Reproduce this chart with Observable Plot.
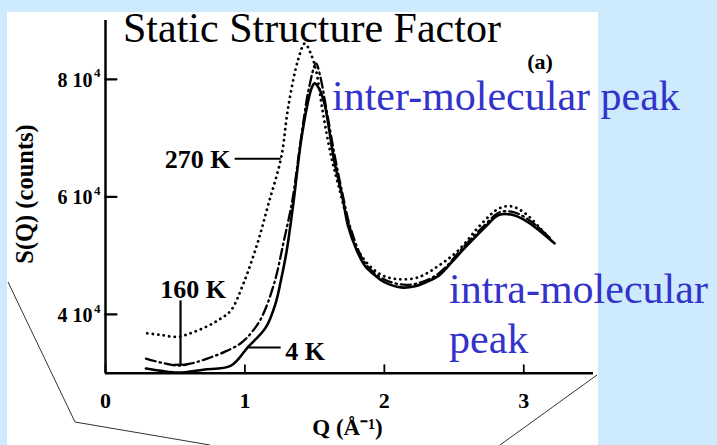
<!DOCTYPE html>
<html><head><meta charset="utf-8">
<script src="https://cdn.jsdelivr.net/npm/d3@7"></script>
<script src="https://cdn.jsdelivr.net/npm/@observablehq/plot@0.6"></script>
<style>
html,body{margin:0;padding:0;}
body{width:717px;height:445px;background:#cdebfc;position:relative;overflow:hidden;font-family:"Liberation Serif","Times New Roman",serif;}
#paper{position:absolute;left:7px;top:12px;width:591px;height:433px;background:#fff;}
#chart{position:absolute;left:0;top:0;}
#overlay{position:absolute;left:0;top:0;pointer-events:none;}
</style></head><body>
<div id="paper"></div>
<div id="chart"></div>
<svg id="overlay" width="717" height="445" font-family="'Liberation Serif','Times New Roman',serif">
  <polyline points="8,282 75,422 210,445" fill="none" stroke="#333" stroke-width="1"/>
  <line x1="597" y1="375" x2="500" y2="445" stroke="#333" stroke-width="1"/>
  <text x="123" y="42" font-size="42" fill="#000">Static Structure Factor</text>
  <text x="332" y="110" font-size="42" fill="#3333cc">inter-molecular peak</text>
  <text x="449" y="303" font-size="42" fill="#3333cc">intra-molecular</text>
  <text x="449" y="353" font-size="42" fill="#3333cc">peak</text>
  <text id="ytitle" transform="translate(33,194) rotate(-90)" text-anchor="middle" font-size="24.5" font-weight="bold" fill="#000"></text>
</svg>
<script>
// ---- data ----
const q4K   = [0.29,0.40,0.52,0.70,0.90,1.02,1.15,1.22,1.26,1.30,1.35,1.40,1.45,1.48,1.50,1.53,1.57,1.60,1.64,1.70,1.74,1.80,1.86,1.93,2.00,2.12,2.22,2.30,2.39,2.48,2.58,2.72,2.82,2.91,3.01,3.11,3.22];
const s4K   = [30800,30400,30100,30600,31300,34400,37800,41900,46000,50900,59400,69100,75900,78600,79300,78500,75900,72000,66200,59900,55000,51000,48300,46700,45500,44600,44800,45500,46600,48800,51400,54800,56900,57000,56000,54300,52100];
const q160K = [0.29,0.40,0.52,0.62,0.73,0.85,0.97,1.05,1.12,1.21,1.28,1.34,1.40,1.46,1.51,1.54,1.58,1.64,1.70,1.76,1.86,1.98,2.12,2.24,2.39,2.58,2.72,2.82,2.91,3.01,3.11,3.20];
const s160K = [32500,31800,31300,31700,32500,33600,35100,37000,39500,45300,52600,59400,69600,78600,82700,80500,75500,67500,60500,54500,48800,46200,45100,45300,47000,51800,55200,57300,57500,56500,54700,52700];
const q270K = [0.30,0.40,0.52,0.62,0.73,0.82,0.90,0.99,1.09,1.17,1.26,1.31,1.38,1.43,1.47,1.51,1.56,1.62,1.68,1.73,1.80,1.86,1.93,2.00,2.10,2.24,2.39,2.53,2.70,2.82,2.91,3.01,3.12,3.18];
const s270K = [36800,36500,36200,36900,38000,39200,40700,45300,52100,58900,66700,75200,83200,86100,84500,81500,74200,66700,61100,56500,51500,49200,47500,46500,46000,46300,48300,50900,55500,58000,58400,57200,54600,53100];
const xTicks = [0,1,2,3];
const xTickLabels = ["0","1","2","3"];
const yTicks = [40000,60000,80000];
const yTickMantissa = ["4 10","6 10","8 10"];
const yTickExponent = ["4","4","4"];
const yTitle = "S(Q) (counts)";
const xTitle = "Q (\u00C5\u207B\u00B9)";

document.getElementById("ytitle").textContent = yTitle;

const rows = (q, s) => q.map((d, i) => ({q: d, s: s[i]}));
const d4 = rows(q4K, s4K), d160 = rows(q160K, s160K), d270 = rows(q270K, s270K);
const xt = xTicks.map((d, i) => ({v: d, t: xTickLabels[i]}));
const yt = yTicks.map((d, i) => ({v: d, m: yTickMantissa[i], e: yTickExponent[i]}));
const tickShape = {draw(ctx, l) { ctx.moveTo(0, 0); ctx.lineTo(0, -l); }};
const F = "'Liberation Serif','Times New Roman',serif";

const chart = Plot.plot({
  width: 717, height: 445,
  marginTop: 20, marginBottom: 72.25, marginLeft: 105, marginRight: 124,
  x: {domain: [0, 3.5]}, y: {domain: [30000, 90000]},
  axis: null,
  style: {background: "transparent", fontFamily: F, overflow: "visible"},
  marks: [
    Plot.line(d270, {x: "q", y: "s", stroke: "#000", strokeWidth: 2.8, strokeDasharray: "0.1,5.4", strokeLinecap: "round", curve: "catmull-rom"}),
    Plot.line(d160, {x: "q", y: "s", stroke: "#000", strokeWidth: 2.3, strokeDasharray: "10,4,1.5,4", curve: "catmull-rom"}),
    Plot.line(d4, {x: "q", y: "s", stroke: "#000", strokeWidth: 2.6, curve: "catmull-rom"}),
    Plot.ruleX([0], {y1: 30000, y2: 90000, stroke: "#000", strokeWidth: 2.5}),
    Plot.ruleY([30000], {x1: 0, x2: 3.5, stroke: "#000", strokeWidth: 2.5}),
    Plot.vector(yt, {x: 0, y: "v", length: 11, rotate: 90, anchor: "start", shape: tickShape, stroke: "#000", strokeWidth: 2.2}),
    Plot.vector(xt, {x: "v", y: 30000, length: 8, rotate: 0, anchor: "start", shape: tickShape, stroke: "#000", strokeWidth: 1.8}),
    Plot.text(yt, {x: 0, y: "v", text: "m", dx: -13, dy: 1, textAnchor: "end", fontSize: 20, fontWeight: "bold", fill: "#000"}),
    Plot.text(yt, {x: 0, y: "v", text: "e", dx: -5, dy: -6, textAnchor: "end", fontSize: 13, fontWeight: "bold", fill: "#000"}),
    Plot.text(xt, {x: "v", y: 30000, text: "t", dy: 28, fontSize: 22, fontWeight: "bold", fill: "#000"}),
    Plot.text([xTitle], {frameAnchor: "bottom", text: d => d, dx: -2, dy: 62, fontSize: 23, fontWeight: "bold", fill: "#000"}),
    // annotations
    Plot.ruleY([66500], {x1: 0.93, x2: 1.26, stroke: "#000", strokeWidth: 2}),
    Plot.ruleX([0.538], {y1: 31450, y2: 42300, stroke: "#000", strokeWidth: 2.2}),
    Plot.ruleY([31450], {x1: 0.495, x2: 0.59, stroke: "#000", strokeWidth: 2.2}),
    Plot.ruleY([34400], {x1: 1.03, x2: 1.26, stroke: "#000", strokeWidth: 2}),
    Plot.text(["270 K"], {x: 0.897, y: 66300, text: d => d, textAnchor: "end", fontSize: 26, fontWeight: "bold", fill: "#000"}),
    Plot.text(["160 K"], {x: 0.628, y: 44300, text: d => d, fontSize: 26, fontWeight: "bold", fill: "#000"}),
    Plot.text(["4 K"], {x: 1.29, y: 33750, text: d => d, textAnchor: "start", fontSize: 26, fontWeight: "bold", fill: "#000"}),
    Plot.text(["(a)"], {x: 3.116, y: 82900, text: d => d, fontSize: 22, fontWeight: "bold", fill: "#000"})
  ]
});
document.getElementById("chart").appendChild(chart);
</script>
</body></html>
